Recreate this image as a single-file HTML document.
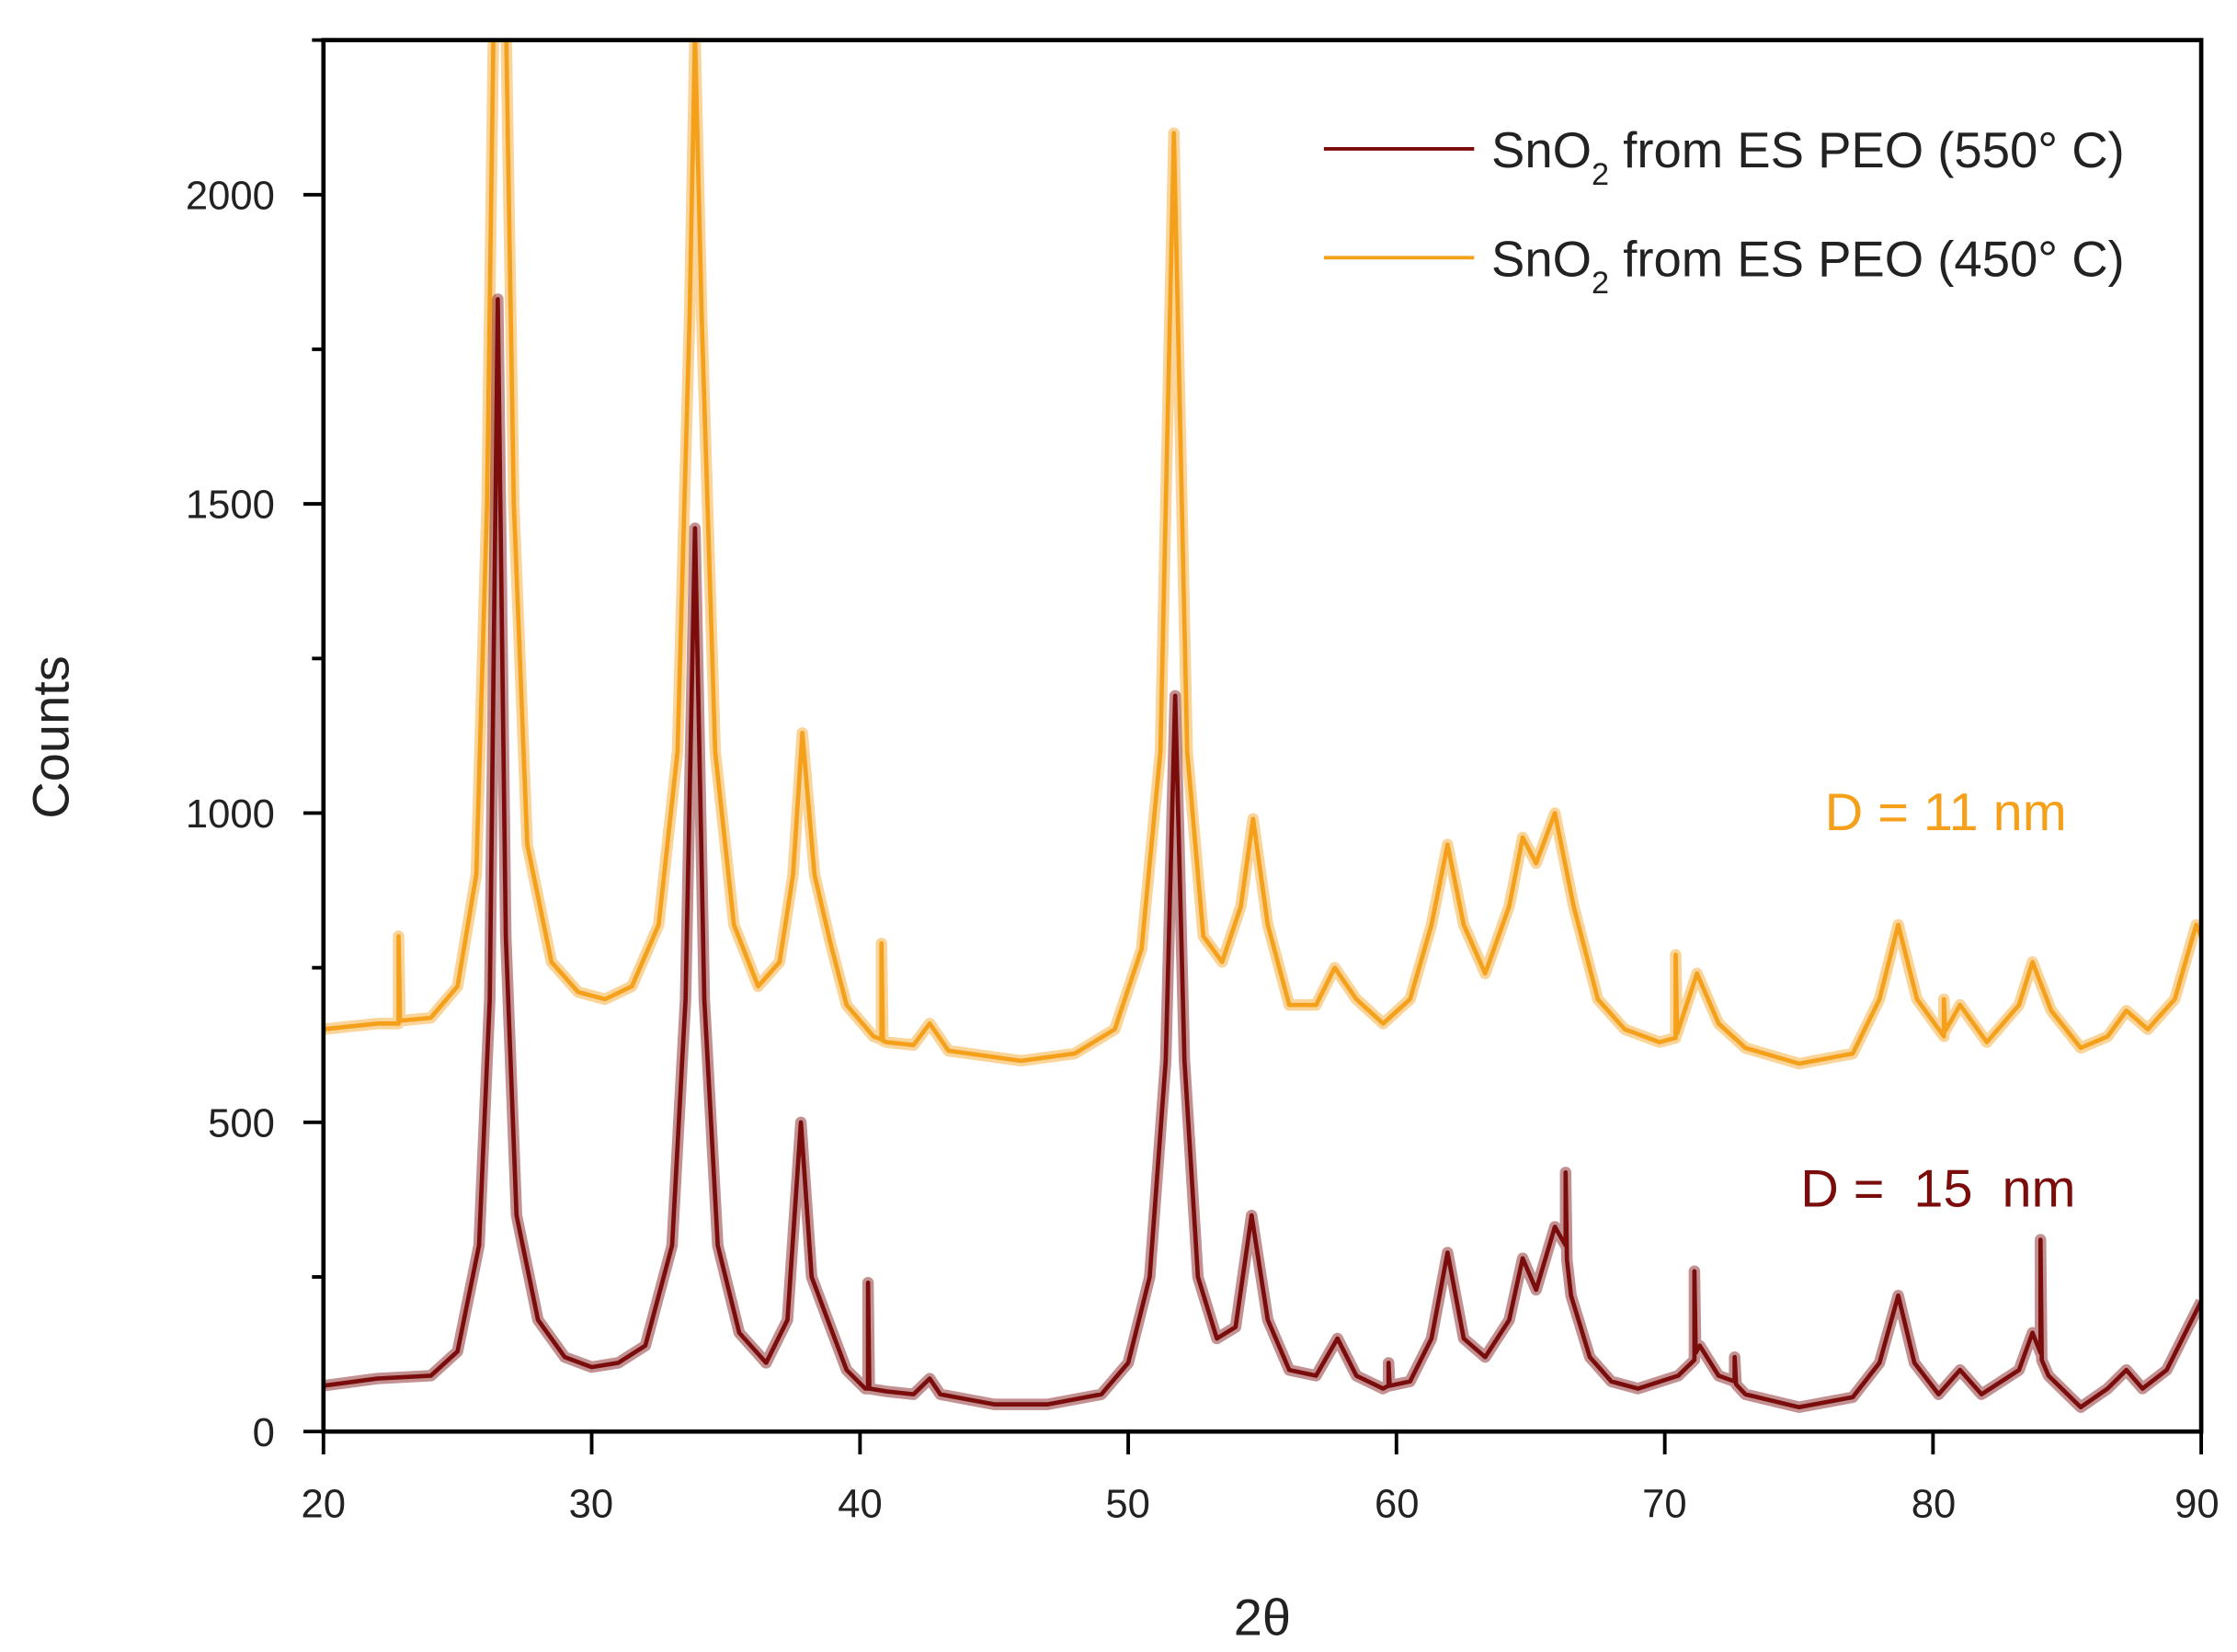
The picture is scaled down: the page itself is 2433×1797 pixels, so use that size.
<!DOCTYPE html>
<html><head><meta charset="utf-8"><style>
html,body{margin:0;padding:0;background:#fff;}
svg{display:block;}
text{font-family:"Liberation Sans","DejaVu Sans",sans-serif;}
</style></head><body>
<svg width="2433" height="1797" viewBox="0 0 1563 1154" preserveAspectRatio="none" xmlns="http://www.w3.org/2000/svg">
<defs><clipPath id="c"><rect x="226" y="28" width="1312" height="972"/></clipPath>
<path id="po" d="M226,719 L263.5,715 L278.5,715 L278.5,654 L279.5,713 L301,711 L319.7,689 L332.8,611 L340.3,352 L345,6 L353.4,6 L359,352 L368.4,590 L385.3,672 L404,693 L422.7,698 L441.5,689 L460.2,646 L473.4,525 L481.8,222 L485.6,24 L490.3,222 L499.7,525 L512.8,646 L529.7,689 L544.7,672 L554.1,611 L560.6,512 L569.1,611 L580.3,659 L591.5,702 L610.3,724 L615.9,726 L615.9,659 L616.9,727 L619.6,728 L638.3,730 L649.6,715 L662.7,734 L713.3,741 L750.8,736 L778.9,719 L797.6,663 L810.8,525 L820.2,93 L829.5,525 L840.8,654 L853.9,672 L867,633 L875.5,572 L885.8,646 L900.8,702 L919.5,702 L932.6,676 L947.7,698 L966.4,715 L985.2,698 L1000.2,646 L1011.4,590 L1022.7,646 L1037.7,680 L1054.5,633 L1063.9,585 L1073.3,603 L1086.4,568 L1099.5,633 L1116.4,698 L1135.2,719 L1159.5,728 L1170.8,725 L1170.8,667 L1171.8,722 L1185.7,680 L1200.8,715 L1219.5,732 L1257,743 L1294.5,736 L1313.2,698 L1326.3,646 L1339.4,698 L1358.2,724 L1358.2,698 L1359.2,720 L1369.5,702 L1388.2,728 L1410.7,702 L1420.1,672 L1433.2,706 L1453.8,732 L1472.6,724 L1485.7,706 L1500.7,719 L1519.5,698 L1534.5,646 L1538,654"/>
<path id="pr" d="M226,968 L263.5,963 L301,961 L319.7,944 L334.7,870 L342.2,698 L347.8,209 L353.4,654 L360.9,849 L375.9,922 L394.6,948 L413.4,955 L432,952 L450.9,940 L469.6,870 L479,698 L485.6,369 L492.1,698 L501.5,870 L516.5,931 L535.3,952 L550.2,922 L559.6,784 L567.1,892 L580.2,927 L591.5,957 L604.6,970 L606.5,970 L606.5,896 L607.4,970 L619.6,972 L638.3,974 L649.6,963 L657,974 L694.6,981 L732,981 L769.5,974 L788.3,952 L803.3,892 L814.5,741 L821.1,486 L827.6,741 L837,892 L850.2,935 L863.3,927 L874.5,849 L885.8,922 L900.8,957 L919.5,961 L934.5,935 L947.7,961 L966.4,970 L970.2,968 L970.2,952 L971,968 L985.2,965 L1000.2,935 L1011.4,875 L1022.7,935 L1037.7,948 L1054.5,922 L1063.9,879 L1073.3,901 L1086.4,857 L1093.9,870 L1093.9,819 L1094.8,880 L1097.7,905 L1110.8,948 L1125.8,965 L1144.5,970 L1172.6,961 L1183.9,950 L1183.9,888 L1184.8,945 L1187.6,940 L1200.8,961 L1212,965 L1212,948 L1213,967 L1219.5,974 L1257,983 L1294.5,976 L1313.2,952 L1326.3,905 L1337.6,952 L1354.5,974 L1369.5,957 L1384.5,974 L1410.7,957 L1420.1,931 L1425.7,945 L1425.7,866 L1426.6,950 L1431.3,961 L1453.8,983 L1472.6,970 L1485.7,957 L1497,970 L1513.9,957 L1528.9,927 L1538,909"/>
</defs>
<rect width="1563" height="1154" fill="#fff"/>
<g clip-path="url(#c)" fill="none" stroke-linejoin="round">
<use href="#po" stroke="#F5A01A" stroke-width="8" stroke-opacity="0.45"/>
<use href="#po" stroke="#F5A01A" stroke-width="3"/>
<use href="#pr" stroke="#7A0C0C" stroke-width="8" stroke-opacity="0.45"/>
<use href="#pr" stroke="#7A0C0C" stroke-width="3"/>
</g>
<rect x="226" y="28" width="1312" height="972" stroke="#000" stroke-width="3" fill="none"/>
<g stroke="#000" stroke-width="2.5">
<line x1="212" y1="1000" x2="226" y2="1000"/><line x1="218" y1="892" x2="226" y2="892"/>
<line x1="212" y1="784" x2="226" y2="784"/><line x1="218" y1="676" x2="226" y2="676"/>
<line x1="212" y1="568" x2="226" y2="568"/><line x1="218" y1="460" x2="226" y2="460"/>
<line x1="212" y1="352" x2="226" y2="352"/><line x1="218" y1="244" x2="226" y2="244"/>
<line x1="212" y1="136" x2="226" y2="136"/><line x1="218" y1="28" x2="226" y2="28"/>
<line x1="226" y1="1000" x2="226" y2="1016"/><line x1="413.4" y1="1000" x2="413.4" y2="1016"/>
<line x1="600.9" y1="1000" x2="600.9" y2="1016"/><line x1="788.3" y1="1000" x2="788.3" y2="1016"/>
<line x1="975.7" y1="1000" x2="975.7" y2="1016"/><line x1="1163.2" y1="1000" x2="1163.2" y2="1016"/>
<line x1="1350.6" y1="1000" x2="1350.6" y2="1016"/><line x1="1538" y1="1000" x2="1538" y2="1016"/>
</g>
<g font-size="28" fill="#222" text-anchor="end">
<text x="192" y="1010">0</text>
<text x="192" y="794">500</text>
<text x="192" y="578">1000</text>
<text x="192" y="362">1500</text>
<text x="192" y="146">2000</text>
</g>
<g font-size="28" fill="#222" text-anchor="middle">
<text x="226" y="1060">20</text><text x="413" y="1060">30</text><text x="601" y="1060">40</text>
<text x="788" y="1060">50</text><text x="976" y="1060">60</text><text x="1163" y="1060">70</text>
<text x="1351" y="1060">80</text><text x="1535" y="1060">90</text>
</g>
<text x="882" y="1142" font-size="36" text-anchor="middle" fill="#222">2θ</text>
<text transform="translate(48,515) rotate(-90)" font-size="36" text-anchor="middle" fill="#222">Counts</text>
<line x1="925" y1="104" x2="1030" y2="104" stroke="#7A0C0C" stroke-width="2.5"/>
<line x1="925" y1="180" x2="1030" y2="180" stroke="#F5A01A" stroke-width="2.5"/>
<text x="1042" y="117" font-size="35" fill="#222">SnO<tspan font-size="22" dy="12">2</tspan><tspan dy="-12"> from ES PEO (550° C)</tspan></text>
<text x="1042" y="193" font-size="35" fill="#222">SnO<tspan font-size="22" dy="12">2</tspan><tspan dy="-12"> from ES PEO (450° C)</tspan></text>
<text x="1275" y="580" font-size="37" fill="#F5A01A">D = 11 nm</text>
<text x="1258" y="843" font-size="37" fill="#7A0C0C">D =&#160; 15&#160; nm</text>
</svg>
</body></html>
